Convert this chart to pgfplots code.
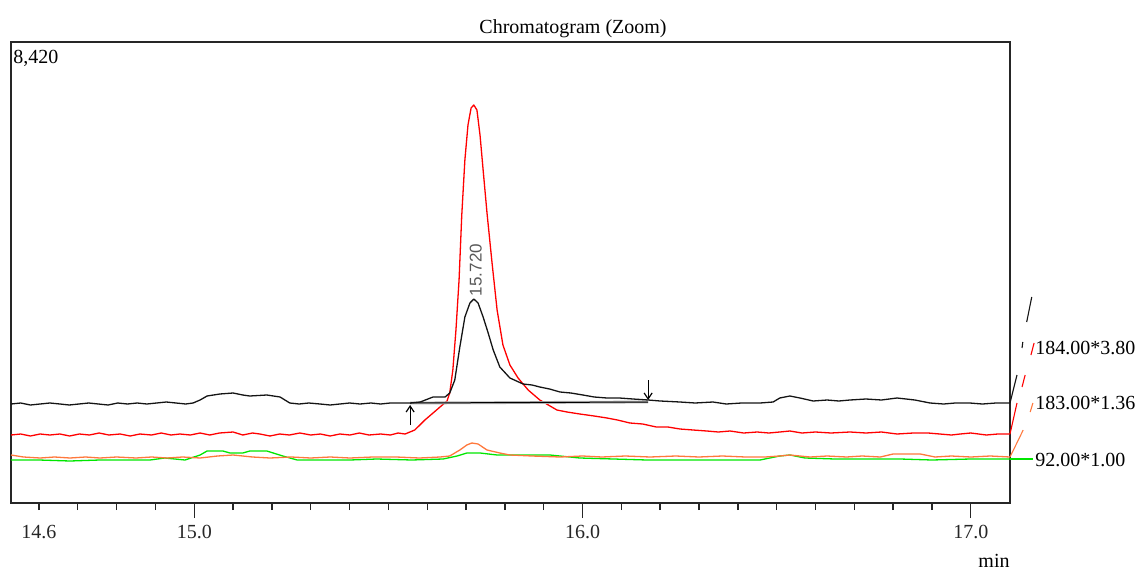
\documentclass[border=0pt]{standalone}
\usepackage{pgfplots}
\pgfplotsset{compat=1.18}
\usetikzlibrary{arrows.meta}
\usepackage{fontspec}
\setmainfont{Liberation Serif}
\newfontfamily\labsans{Liberation Sans}
\definecolor{cblack}{RGB}{20,20,20}
\definecolor{cred}{RGB}{255,0,0}
\definecolor{corange}{RGB}{255,120,60}
\definecolor{cgreen}{RGB}{0,230,0}
\begin{document}
\begin{tikzpicture}
\useasboundingbox (-5.5pt,-33pt) rectangle (565.5pt,251.5pt);
\begin{axis}[
  at={(0,0)}, anchor=south west,
  scale only axis, width=499.5pt, height=230.5pt,
  xmin=14.528, xmax=17.101, ymin=0, ymax=461,
  axis line style={line width=0.8pt, black!85},
  ytick=\empty,
  xtick={14.6,15,16,17},
  xticklabels={14.6,15.0,16.0,17.0},
  extra x ticks={15,16,17},
  extra x tick labels={},
  extra x tick style={major tick length=7.5pt},
  minor xtick={14.7,14.8,14.9,15.1,15.2,15.3,15.4,15.5,15.6,15.7,15.8,15.9,16.1,16.2,16.3,16.4,16.5,16.6,16.7,16.8,16.9},
  major tick length=3.5pt, minor tick length=3.5pt,
  tick align=outside, xtick pos=bottom,
  tick style={line width=0.7pt, black!85},
  xticklabel style={font=\fontsize{10}{12}\selectfont, text=black!85, yshift=-4pt},
  clip=false,
  every axis plot/.append style={line width=0.65pt, line join=round},
]
% green 92.00*1.00
\addplot[cgreen] coordinates {
(14.528,43)(14.600,43)(14.680,42)(14.757,43)(14.830,43)(14.886,43)(14.924,45)(14.950,44)(14.976,43)
(15.015,48)(15.033,52)(15.074,52)(15.092,50)(15.125,50)(15.143,52)(15.187,52)(15.228,47)(15.265,43)
(15.330,43)(15.401,43)(15.470,44)(15.560,43)(15.641,44)(15.677,47)(15.702,50)(15.736,50)(15.780,48)
(15.850,48)(15.916,48)(15.993,45)(16.080,44)(16.166,43)(16.300,43)(16.457,43)(16.508,47)(16.534,48)
(16.573,45)(16.650,44)(16.740,44)(16.818,44)(16.900,43)(17.000,44)(17.101,44)};
% orange 92 trace
\addplot[corange] coordinates {
(14.528,48)(14.560,46)(14.603,45)(14.640,46)(14.680,45)(14.720,46)(14.757,45)(14.800,46)(14.850,45)
(14.890,46)(14.930,45)(14.970,46)(15.015,45)(15.060,47)(15.100,48)(15.150,46)(15.195,45)(15.250,46)
(15.300,45)(15.350,46)(15.401,45)(15.460,46)(15.520,46)(15.580,45)(15.633,46)(15.658,47)(15.684,53)
(15.702,58)(15.715,60)(15.731,59)(15.754,53)(15.787,50)(15.813,48)(15.870,47)(15.942,46)(16.000,47)
(16.050,46)(16.110,47)(16.174,46)(16.240,47)(16.300,46)(16.360,47)(16.420,46)(16.470,46)(16.508,47)
(16.534,48)(16.586,46)(16.630,47)(16.680,46)(16.720,47)(16.767,46)(16.800,49)(16.870,49)(16.908,46)
(16.950,47)(17.000,46)(17.050,47)(17.101,46)};
% red 183.00*1.36
\addplot[cred] coordinates {
(14.528,68)(14.553,69)(14.578,67)(14.603,69)(14.628,68)(14.654,69)(14.679,67)(14.704,69)(14.730,68)
(14.755,70)(14.780,68)(14.809,69)(14.835,67)(14.860,69)(14.890,68)(14.915,70)(14.940,68)(14.963,69)
(14.990,68)(15.015,70)(15.040,68)(15.065,70)(15.100,71)(15.125,68)(15.150,70)(15.169,69)(15.195,67)
(15.220,69)(15.245,68)(15.272,70)(15.300,68)(15.325,69)(15.350,67)(15.375,69)(15.401,68)(15.425,70)
(15.450,68)(15.480,69)(15.505,68)(15.525,70)(15.543,69)(15.568,73)(15.594,83)
(15.615,90)(15.633,96)(15.651,102)(15.658,110)(15.666,133)(15.674,173)(15.682,223)(15.689,288)
(15.697,343)(15.705,378)(15.713,395)(15.720,398)(15.728,393)(15.736,368)(15.744,333)(15.754,290)
(15.767,240)(15.780,193)(15.795,158)(15.813,138)(15.834,125)(15.860,113)(15.890,103)(15.934,93)
(15.960,91)(15.993,89)(16.030,87)(16.063,85)(16.090,83)(16.122,80)(16.155,79)(16.190,76)(16.220,76)
(16.251,74)(16.285,73)(16.320,72)(16.350,71)(16.380,72)(16.415,70)(16.450,71)(16.480,70)(16.508,71)
(16.534,72)(16.565,70)(16.600,71)(16.640,70)(16.689,71)(16.730,70)(16.770,71)(16.810,69)(16.852,70)
(16.890,70)(16.920,69)(16.950,68)(16.973,69)(17.000,70)(17.040,68)(17.070,69)(17.101,69)};
% integration baseline
\addplot[gray!60, line width=1.4pt] coordinates {(15.556,100)(16.169,101)};
\addplot[black, line width=0.5pt] coordinates {(15.556,100)(16.169,101)};
% black 184.00*3.80
\addplot[cblack] coordinates {
(14.528,99)(14.553,100)(14.578,98)(14.603,99)(14.628,100)(14.654,99)(14.678,98)(14.703,99)(14.728,100)
(14.753,99)(14.778,98)(14.803,100)(14.828,99)(14.853,100)(14.878,99)(14.903,100)(14.928,101)(14.953,100)
(14.978,99)(14.997,100)(15.015,103)(15.033,107)(15.066,109)
(15.100,110)(15.125,108)(15.143,107)(15.187,108)(15.221,106)(15.246,100)(15.270,99)(15.295,100)
(15.324,99)(15.350,98)(15.375,99)(15.400,100)(15.427,99)(15.455,100)(15.480,99)(15.505,100)
(15.530,100)(15.556,100)(15.582,101)(15.615,106)(15.646,106)(15.658,110)(15.671,123)(15.684,156)
(15.697,186)(15.710,200)(15.720,204)(15.731,200)(15.744,186)(15.757,170)(15.770,153)(15.787,136)
(15.813,125)(15.847,119)(15.870,118)(15.890,116)(15.915,114)(15.942,111)(15.970,110)(16.001,108)
(16.030,106)(16.063,105)(16.095,105)(16.130,104)(16.169,103)(16.200,102)
(16.251,101)(16.290,100)(16.336,101)(16.370,99)(16.410,100)(16.457,100)(16.491,101)(16.508,105)
(16.534,107)(16.560,105)(16.594,102)(16.630,103)(16.660,102)(16.689,103)(16.730,104)(16.770,103)
(16.810,105)(16.856,103)(16.895,100)(16.930,99)(16.960,100)(16.997,100)(17.030,99)(17.065,100)(17.101,100)};
% peak label and integration marks
\node[rotate=90, anchor=center, text=black!65, font=\labsans\fontsize{8.5}{10}\selectfont] at (axis cs:15.725,233) {15.720};
\draw[black, line width=0.6pt, -{Straight Barb[length=3pt,width=4pt]}] (axis cs:15.556,78) -- (axis cs:15.556,98);
\draw[black, line width=0.6pt, -{Straight Barb[length=3pt,width=4pt]}] (axis cs:16.169,123) -- (axis cs:16.169,103);
% texts
\node[anchor=base, font=\fontsize{10}{12}\selectfont] at ([yshift=4.25pt]rel axis cs:0.5626,1) {Chromatogram (Zoom)};
\node[anchor=north west, inner sep=0pt, font=\fontsize{10}{12}\selectfont] at ([xshift=1pt,yshift=-4pt]rel axis cs:0,1) {8,420};
\node[anchor=base east, inner sep=0pt, font=\fontsize{10}{12}\selectfont] at ([yshift=-32pt]rel axis cs:1,0) {min};
% right-side trace indicators
\draw[cblack, line width=0.55pt] (axis cs:17.101,100) -- (axis cs:17.119,128);
\draw[cblack, line width=0.55pt] (axis cs:17.132,155) -- (axis cs:17.134,161);
\draw[cblack, line width=0.55pt] (axis cs:17.144,181) -- (axis cs:17.157,206);
\draw[cred, line width=0.55pt] (axis cs:17.101,69) -- (axis cs:17.119,100);
\draw[cred, line width=0.55pt] (axis cs:17.132,116) -- (axis cs:17.140,128);
\draw[cred, line width=0.55pt] (axis cs:17.155,148) -- (axis cs:17.163,160);
\draw[corange, line width=0.55pt] (axis cs:17.101,46) -- (axis cs:17.135,73);
\draw[corange, line width=0.55pt] (axis cs:17.153,91) -- (axis cs:17.160,100);
\draw[cgreen, line width=0.55pt] (axis cs:17.101,44) -- (axis cs:17.160,44);
\node[anchor=west, inner sep=0pt, font=\fontsize{10}{12}\selectfont] at (axis cs:17.165,155) {184.00*3.80};
\node[anchor=west, inner sep=0pt, font=\fontsize{10}{12}\selectfont] at (axis cs:17.165,100) {183.00*1.36};
\node[anchor=west, inner sep=0pt, font=\fontsize{10}{12}\selectfont] at (axis cs:17.165,43) {92.00*1.00};
\end{axis}
\end{tikzpicture}
\end{document}
